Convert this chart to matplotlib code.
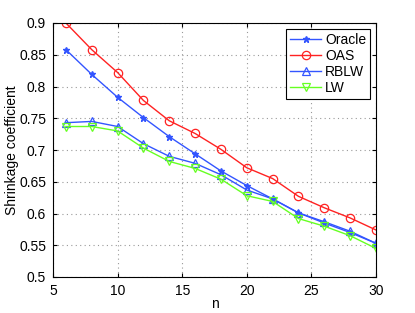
import matplotlib
matplotlib.use("Agg")
import matplotlib.pyplot as plt

plt.rcParams['font.family'] = ['Liberation Sans', 'DejaVu Sans']

n = [6, 8, 10, 12, 14, 16, 18, 20, 22, 24, 26, 28, 30]
oracle = [0.858, 0.819, 0.783, 0.751, 0.721, 0.694, 0.667, 0.644, 0.623, 0.601, 0.585, 0.570, 0.553]
oas = [0.900, 0.858, 0.822, 0.778, 0.746, 0.726, 0.701, 0.672, 0.655, 0.627, 0.609, 0.593, 0.574]
rblw = [0.743, 0.745, 0.737, 0.710, 0.690, 0.679, 0.661, 0.637, 0.623, 0.601, 0.587, 0.572, 0.553]
lw = [0.737, 0.737, 0.730, 0.703, 0.682, 0.671, 0.654, 0.628, 0.619, 0.592, 0.580, 0.565, 0.545]

xticks = [5, 10, 15, 20, 25, 30]
yticks = [0.5, 0.55, 0.6, 0.65, 0.7, 0.75, 0.8, 0.85, 0.9]
ytick_labels = ['0.5', '0.55', '0.6', '0.65', '0.7', '0.75', '0.8', '0.85', '0.9']

fig = plt.figure(figsize=(4.15, 3.13), dpi=100)
ax = fig.add_axes([53/415, 1-277/313, (376-53)/415, (277-23)/313])

blue = '#3355ff'
red = '#ff2222'
green = '#66ff22'
ax.plot(n, oracle, color=blue, marker='*', ms=5, lw=1, label='Oracle')
ax.plot(n, oas, color=red, marker='o', ms=6, mfc='none', mew=0.9, lw=1, label='OAS')
ax.plot(n, rblw, color=blue, marker='^', ms=6, mfc='none', mew=0.9, lw=1, label='RBLW')
ax.plot(n, lw, color=green, marker='v', ms=6, mfc='none', mew=0.9, lw=1, label='LW')

ax.set_xlim(5, 30)
ax.set_ylim(0.5, 0.9)
ax.set_xticks(xticks)
ax.set_yticks(yticks)
ax.set_yticklabels(ytick_labels)
ax.grid(True, linestyle=(0, (1, 3)), color='#999999', lw=0.8)
ax.tick_params(direction='in', top=True, right=True, labelsize=10, length=3, pad=5)
for s in ax.spines.values():
    s.set_linewidth(0.8)
ax.set_xlabel('n', fontsize=10, labelpad=-1)
ax.set_ylabel('Shrinkage coefficient', fontsize=10, labelpad=2)
ax.yaxis.set_label_coords(-0.105, 0.5)

leg = ax.legend(loc='upper right', fontsize=10, frameon=True, fancybox=False,
                edgecolor='black', framealpha=1, borderaxespad=0.4,
                handlelength=2.2, labelspacing=0.15, borderpad=0.3, handletextpad=0.3)
leg.get_frame().set_linewidth(0.8)

fig.savefig('out.png', dpi=100)
